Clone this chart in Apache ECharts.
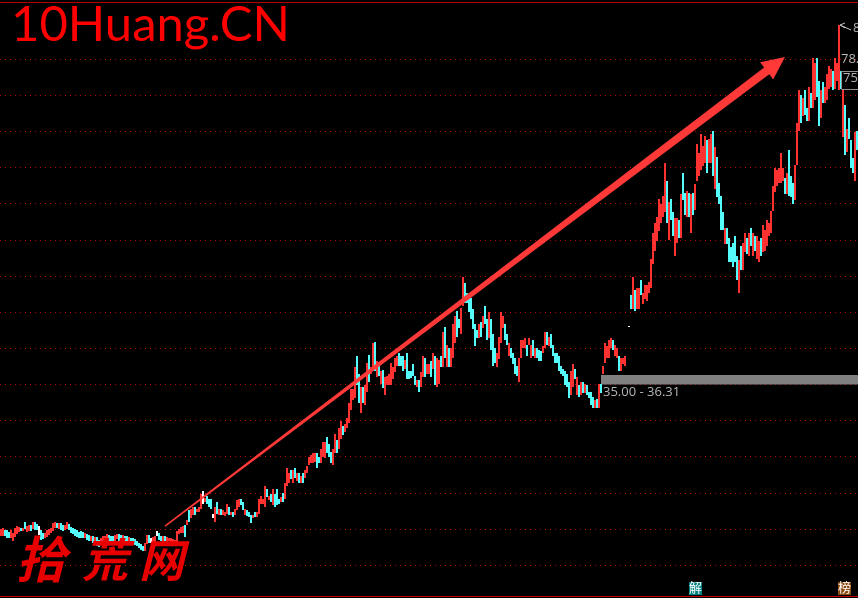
<!DOCTYPE html>
<html>
<head>
<meta charset="utf-8">
<style>html,body{margin:0;padding:0;background:#000;overflow:hidden}#c{width:858px;height:598px}</style>
<script src="https://cdn.jsdelivr.net/npm/echarts@6/dist/echarts.min.js"></script>
</head>
<body>
<div id="c"></div>
<script>
// each row: [open, close, low, high]
const legBase = [
[14.2,14.7,14.0,15.0],[14.3,14.9,14.1,15.2],[14.8,14.1,14.0,14.9],[14.7,14.0,13.8,14.8],[14.4,13.8,13.7,14.6],[13.9,14.6,13.7,14.8],[13.7,14.3,13.4,14.5],[14.0,14.9,13.9,15.1],[14.5,15.2,14.3,15.4],[14.7,15.2,14.6,15.3],
[15.1,14.8,14.7,15.2],[14.8,15.1,14.7,15.2],[15.8,15.1,15.0,16.0],[14.7,15.2,14.6,15.4],[14.8,15.3,14.7,15.5],[15.5,14.8,14.7,15.6],[15.1,15.9,15.0,16.0],[15.8,15.1,14.9,16.0],[15.6,15.0,14.8,15.7],[15.3,14.5,14.2,15.4],
[14.7,13.9,13.5,14.9],[14.3,13.8,13.6,14.5],[13.9,14.3,13.8,14.4],[14.0,14.6,13.9,14.9],[14.3,14.9,14.2,15.0],[14.6,15.0,14.5,15.2],[14.8,15.5,14.7,15.9],[15.2,15.8,15.1,16.0],[15.8,15.2,15.1,15.9],[15.1,15.7,15.0,15.9],
[15.7,15.0,14.9,15.8],[15.4,14.8,14.7,15.6],[14.9,15.4,14.8,15.6],[15.1,15.7,15.0,16.0],[15.6,15.0,14.9,15.7],[15.2,14.6,14.4,15.3],[15.0,14.5,14.3,15.1],[14.8,14.2,14.1,15.0],[14.7,14.1,13.9,14.8],[14.4,13.9,13.7,14.6],
[14.6,14.0,13.8,14.7],[14.5,13.9,13.7,14.6],[13.9,14.3,13.8,14.4],[14.2,13.7,13.5,14.3],[14.0,13.5,13.3,14.2],[13.5,13.9,13.4,14.0],[13.9,13.3,13.1,14.0],[13.1,13.7,13.0,13.9],[13.7,13.0,12.6,13.9],[13.4,12.9,12.5,13.5],
[13.0,13.5,12.9,13.7],[13.1,13.7,13.0,14.0],[13.3,13.9,13.2,14.0],[13.5,14.1,13.4,14.3],[14.1,13.6,13.4,14.2],[14.0,13.4,13.3,14.1],[13.9,13.4,13.2,14.0],[13.5,14.1,13.4,14.2],[13.7,14.2,13.6,14.3],[14.2,13.6,13.4,14.3],
[14.1,13.6,13.5,14.2],[13.5,14.0,13.4,14.2],[14.0,13.5,13.4,14.1],[13.9,13.4,13.3,14.0],[13.4,13.8,13.2,13.9],[13.7,13.2,13.0,13.8],[13.6,13.1,12.9,13.7],[13.5,13.0,12.8,13.6],[13.2,12.8,12.6,13.3],[13.0,12.6,12.4,13.1],
[12.8,12.3,12.1,12.9],[12.6,12.1,11.9,12.7],[12.0,12.8,11.9,13.0],[13.0,14.0,12.9,14.2],[14.0,13.2,13.0,14.2],[13.7,13.2,13.0,13.8],[13.1,13.7,13.0,13.9],[13.3,14.0,13.2,14.1],[14.6,14.1,14.0,14.7],[14.3,13.7,13.5,14.4],
[14.0,13.5,13.3,14.1],[13.3,13.9,13.2,14.0],[14.0,13.4,13.3,14.1],[13.3,13.8,13.2,13.9],[13.4,13.7,13.3,13.8],[13.2,13.6,13.1,13.7],[13.1,13.5,13.0,13.6],[13.0,13.4,12.9,13.5],[13.2,14.5,13.1,14.7],[14.4,14.9,14.3,15.0],
[14.5,15.2,14.4,15.3],[14.6,15.3,14.5,15.4],[15.4,14.2,13.9,15.6]
];
const legFirstRise = [
[15.7,16.1,15.6,16.2],[17.3,16.3,16.0,17.6],[16.7,17.6,16.5,17.8],[17.0,17.8,16.9,18.0],[17.8,17.0,16.9,18.0],[17.4,17.7,17.3,17.8],[17.5,17.9,17.4,18.0],[18.0,19.6,17.8,19.9],[20.0,18.9,18.5,20.3],[18.7,19.2,18.7,19.3],
[19.4,18.8,18.5,19.5],[19.0,18.2,18.0,19.1],[19.0,18.0,17.8,19.2],[17.1,16.6,16.5,17.1],[16.3,17.8,16.0,18.0],[18.4,17.3,17.1,18.7],[17.0,17.6,16.9,17.8],[17.6,17.0,16.9,17.7],[17.0,17.4,17.0,17.6],[16.9,17.3,16.8,17.4],
[17.2,18.1,17.1,18.5],[17.8,17.0,16.9,18.0],[17.0,17.3,17.0,17.4],[17.1,16.7,16.6,17.3],[17.0,17.6,16.9,17.8],[17.7,18.8,17.6,19.0],[18.1,18.9,18.0,19.1],[19.1,18.4,18.3,19.2],[18.5,17.8,17.6,18.7],[17.1,17.7,17.0,17.8],
[17.5,17.0,16.8,17.6],[17.2,16.7,16.6,17.3],[16.8,16.0,15.9,16.9],[16.6,16.9,16.5,17.0],[17.3,16.7,16.6,17.4],[16.7,17.2,16.6,17.3],[17.2,18.9,17.1,19.1],[18.6,19.4,18.5,19.6],[18.6,19.1,18.5,19.2],[18.3,20.0,18.1,20.9],
[20.4,19.5,19.4,20.6],[19.1,19.5,19.0,19.6],[19.6,18.9,18.7,19.8],[18.5,20.2,18.3,20.5],[19.6,18.3,18.0,19.8],[20.3,18.6,18.3,20.5],[19.1,18.5,18.4,19.2],[18.7,19.2,18.7,19.4],[19.9,18.8,18.7,20.0],[19.4,21.0,19.2,21.3],
[21.2,22.8,21.0,23.5],[21.5,22.6,21.3,22.8],[23.0,22.0,21.9,23.1],[21.6,22.9,21.4,23.1],[23.2,22.2,22.0,23.4],[21.9,22.5,21.7,22.7],[22.6,21.6,21.4,22.7],[21.4,22.2,21.3,22.4],[22.5,21.6,21.4,22.7],[22.1,22.9,22.0,23.1],
[22.8,23.5,22.7,23.7],[24.0,24.7,23.8,24.9],[24.2,25.0,24.1,25.2],[24.4,25.3,24.2,25.5],[24.5,25.3,24.3,25.5],[25.3,24.0,23.5,25.5],[25.0,24.2,24.1,25.0],[24.5,25.9,24.2,26.1],[25.1,26.7,24.9,27.1],[25.0,26.6,24.8,27.0],
[27.4,25.8,25.5,27.7],[26.6,25.2,24.9,26.8],[25.4,24.4,24.2,25.6],[24.2,25.8,23.9,26.1],[25.8,27.7,25.5,28.1],[27.0,25.8,25.5,27.3],[26.3,28.6,26.1,29.0],[27.7,29.5,27.5,29.9],[29.0,28.2,28.0,29.2],[28.6,29.3,28.4,29.5],
[29.2,30.2,29.0,30.4],[29.9,32.0,29.6,32.4],[31.7,34.0,31.4,34.4],[33.1,34.1,32.9,34.3],[33.3,36.5,33.1,37.4],[36.5,35.2,34.9,38.9],[36.0,33.0,32.4,36.5],[33.0,34.3,31.0,34.6],[34.4,32.7,32.5,34.6],[32.4,34.6,32.1,34.9],
[34.2,37.5,33.9,37.9],[38.0,35.6,35.3,39.1],[36.6,37.3,36.5,37.4],[37.1,38.5,36.9,40.8],[38.8,37.1,36.9,40.9],[36.2,38.0,36.0,38.3],[37.4,36.4,36.2,37.6],[35.3,36.7,35.1,36.9],[36.8,35.5,34.5,37.0],[34.2,35.8,33.6,36.0]
];
const legFirstRange = [
[35.0,36.0,34.9,36.2],[35.0,36.2,34.9,36.5],[35.2,36.5,34.9,37.9],[36.0,37.2,35.8,37.4],[36.9,38.5,36.7,38.7],[37.8,38.8,37.6,39.0],[39.1,37.8,37.6,39.3],[38.8,37.8,37.6,39.0],[38.8,37.2,36.8,39.0],[37.3,38.2,37.1,38.4],
[38.5,36.2,35.8,39.3],[36.7,36.0,35.8,36.9],[36.7,36.1,35.9,36.9],[37.0,36.3,36.1,37.8],[36.0,35.0,34.9,36.2],[34.7,35.5,34.6,35.6],[35.2,34.3,33.9,35.6],[34.8,36.5,34.6,36.7],[36.2,38.6,36.0,38.9],[38.5,36.4,36.0,38.7],
[36.7,37.6,36.5,37.8],[36.7,37.6,36.5,37.8],[37.8,36.8,36.0,38.2],[37.4,39.0,37.2,39.3],[38.5,35.5,34.9,38.9],[35.0,38.4,34.6,38.7],[35.5,38.0,35.0,38.4],[38.7,37.6,37.4,38.9],[37.6,41.0,37.4,42.3],[42.6,39.2,38.7,43.0],
[37.6,40.1,37.4,40.4],[39.8,37.8,37.4,40.0],[37.6,39.5,37.4,40.1],[39.0,42.0,38.7,43.4],[41.2,44.0,40.8,44.5],[44.8,41.8,41.5,45.1],[44.0,43.0,42.8,44.1],[42.3,45.0,42.0,45.6],[46.2,47.5,45.9,49.8],[48.5,46.5,46.2,49.0],
[47.4,46.4,46.2,47.6],[46.7,45.3,45.0,46.9],[46.5,44.5,44.1,46.9],[45.1,43.0,42.6,45.4],[43.0,41.5,40.3,43.4],[42.3,41.6,41.4,42.5],[41.6,43.1,41.4,43.4],[43.3,41.9,41.6,43.6],[43.0,44.2,42.8,44.4],[45.0,43.7,43.4,45.9],
[43.8,41.5,41.2,44.1],[41.7,44.7,41.4,45.0],[43.8,40.2,39.7,44.1],[41.6,39.0,37.6,42.0],[39.8,38.2,37.9,40.0],[37.6,39.2,37.4,39.4],[38.8,41.0,38.5,41.5],[41.0,44.0,40.8,45.0],[43.0,44.3,42.8,44.5],[43.1,41.4,41.1,43.4],
[41.8,40.6,40.4,42.0],[39.2,40.5,39.0,40.7],[39.8,38.8,38.6,40.0],[39.1,38.0,37.8,39.3],[38.4,36.8,36.5,38.6],[37.4,36.4,36.2,37.6],[36.0,38.4,35.4,38.7],[38.9,40.8,38.6,41.1],[40.2,41.0,40.0,41.2],[40.3,41.2,40.1,41.4],
[40.3,39.1,38.9,40.5],[40.5,41.3,40.4,41.4],[39.0,40.2,38.7,40.5],[41.0,39.2,39.0,41.2],[38.9,39.9,38.7,40.1],[39.8,38.8,38.6,40.0],[39.5,38.5,38.3,39.7],[39.4,38.4,38.2,39.6],[39.5,40.1,39.4,40.3],[40.3,42.1,40.1,42.3],
[42.0,40.6,40.4,42.2],[40.5,41.4,40.3,41.6],[41.8,40.2,40.0,42.0],[40.2,39.2,39.0,40.4],[39.2,38.2,38.0,39.4],[39.1,38.1,37.9,39.3],[38.8,37.2,36.9,39.0],[37.4,36.7,36.5,37.6],[37.0,36.4,36.2,37.2],[36.7,35.2,34.9,36.9],
[36.3,34.9,34.6,36.5],[35.0,33.8,33.1,35.3],[33.8,36.6,33.5,36.9],[35.0,36.0,34.7,37.8],[37.0,36.0,35.8,37.2],[33.8,35.8,33.5,36.0],[34.7,33.4,33.2,34.9],[33.7,35.1,33.5,35.3],[35.1,34.0,33.8,35.3],[34.0,34.8,33.8,35.0],
[34.7,33.7,33.5,34.9],[33.8,33.2,33.1,33.9],[33.7,32.3,32.1,33.9],[33.0,32.0,31.8,33.2],[31.9,32.6,31.7,32.8],[32.8,32.0,31.8,33.0],[31.9,34.9,31.7,35.1],[34.9,34.0,33.8,35.0],[36.6,37.3,36.5,37.5],[38.1,40.4,37.9,40.7],
[38.9,40.0,38.7,40.3],[39.0,40.8,38.7,41.1],[40.2,41.2,40.0,41.4],[41.0,40.0,39.8,41.1],[39.2,40.2,39.0,40.4],[38.9,39.8,38.7,40.0],[38.8,37.0,36.8,39.0],[37.0,38.5,36.8,38.7],[37.9,38.5,37.8,38.7],[37.8,38.8,37.6,39.0]
];
const legGap = [
[null,null,null,null],[43.1,43.1,43.1,43.1]
];
const legSecondRise = [
[47.2,45.7,45.5,47.4],[45.7,48.0,45.5,49.8],[47.8,45.5,45.2,48.0],[45.7,48.0,45.5,48.3],[45.6,47.5,45.4,48.3],[49.3,47.6,47.4,49.5],[46.3,47.4,46.1,47.6],[47.0,48.5,46.8,48.7],[46.7,48.5,46.5,48.7],[47.8,49.0,47.6,49.2],
[48.6,52.0,48.3,52.4],[52.0,55.7,51.7,56.0],[53.8,57.0,53.5,57.4],[55.0,57.8,54.8,58.1],[56.5,60.0,56.2,60.7],[57.6,59.8,57.4,60.0],[58.4,60.7,58.1,61.0],[59.2,62.0,58.9,65.6],[61.0,58.0,57.4,63.1],[56.0,59.8,55.0,60.2],
[60.3,58.0,57.7,60.6],[58.7,56.0,55.6,58.9],[54.5,57.7,52.8,58.0],[54.8,57.7,54.5,58.0],[57.5,55.6,55.3,57.7],[55.6,60.0,55.3,61.3],[61.5,60.8,60.5,64.3],[61.2,58.8,58.4,61.5],[58.4,61.5,58.1,61.8],[61.2,58.4,58.1,61.5],
[58.0,61.1,55.9,61.4],[61.2,58.8,58.4,61.5],[59.5,62.4,59.2,62.7],[63.5,67.5,63.2,68.2],[64.2,66.7,63.9,67.0],[65.0,68.0,64.6,69.7],[65.5,67.7,65.2,68.0],[66.0,69.0,65.7,69.3],[68.4,65.0,64.2,68.8],[65.9,68.7,65.6,69.0],
[66.0,69.3,65.6,69.6],[69.8,65.0,63.8,70.1],[62.4,66.0,62.1,67.9],[66.2,61.5,60.9,66.5],[62.6,60.2,59.9,62.9],[60.6,57.0,56.4,61.0],[58.5,56.7,56.4,58.8],[54.7,56.4,54.4,56.7],[56.4,54.7,54.4,56.7],[54.9,52.2,51.9,55.2],
[53.7,52.2,51.9,54.0],[54.3,51.6,51.2,54.6],[55.0,52.3,51.9,55.5],[52.4,49.9,49.5,52.7],[50.0,51.8,47.6,52.2],[53.9,51.3,50.9,54.2],[51.3,54.3,50.9,54.6],[53.6,55.7,53.3,56.0],[55.0,53.4,53.1,55.2],[53.1,55.7,52.8,56.0],
[56.3,54.5,54.2,56.6]
];
const legFinalRise = [
[53.1,55.7,52.8,56.0],[55.3,53.8,53.5,55.6],[52.7,55.3,52.4,55.6],[52.2,54.5,51.9,54.9],[55.0,53.0,52.8,55.2],[53.6,56.7,53.3,57.0],[53.8,56.0,53.5,56.3],[54.5,57.4,54.2,57.7],[55.8,57.2,55.6,57.4],[56.3,58.8,56.0,59.0],
[59.3,62.2,59.0,62.5],[61.9,64.6,61.6,64.9],[62.8,64.4,62.5,64.6],[63.0,64.7,62.8,64.9],[63.2,65.0,62.9,67.0],[63.4,64.7,63.2,64.9],[63.4,61.7,61.4,63.6],[61.7,64.0,61.4,64.3],[64.5,61.5,61.1,67.4],[63.6,61.2,60.9,63.9],
[62.6,60.3,60.0,62.9],[60.8,64.0,60.5,65.3],[65.6,70.9,65.3,71.2],[71.0,75.2,70.1,75.7],[74.8,71.5,71.1,75.1],[72.5,74.3,72.2,74.6],[75.4,72.6,72.3,75.7],[73.0,71.8,71.5,73.3],[71.8,75.8,71.5,76.1],[75.0,73.5,73.2,75.3],
[73.6,79.8,73.3,80.1],[74.6,79.0,74.3,79.4],[79.8,75.0,74.7,80.1],[76.5,72.5,70.8,77.0],[72.2,75.4,71.9,75.7],[76.5,74.2,73.9,76.8],[74.3,75.8,74.0,76.1],[74.6,77.7,74.3,78.0],[76.2,78.8,75.9,79.1],[76.4,78.4,76.1,78.7],
[78.1,76.0,75.7,78.4],[76.2,79.8,75.9,80.1],[77.3,79.2,77.0,79.5],[76.0,79.0,75.7,84.7],[78.1,76.2,75.9,78.4],[69.5,75.4,69.2,75.7],[73.4,67.0,66.7,73.7],[67.4,70.1,67.1,70.4],[71.6,69.3,69.0,71.9],[68.5,65.3,65.0,68.8],
[66.0,64.6,64.3,66.3],[63.5,69.6,63.2,69.9],[69.7,67.7,67.4,70.0]
];
const whiteCandles = [19, 75, 78, 101, 106, 314];
const rangeBand = [35.00, 36.31];
const rangeBandStart = 300;
const rangeBandText = '35.00 - 36.31';
const arrowLine = [82, 15.4, 392, 80.3];
const priceMin = 5, priceMax = 85, priceStep = 5;

const UP = '#ff3232', DOWN = '#54fcfc', GRID = '#c00000', LABEL = '#b4b4b4';
const LABEL_FONT = '"Open Sans", sans-serif';
const rows = [].concat(legBase, legFirstRise, legFirstRange, legGap, legSecondRise, legFinalRise);
const categories = rows.map((_, i) => String(i));
const candleRows = rows.map((r, i) => [i].concat(r));

const chart = echarts.init(document.getElementById('c'), null, { renderer: 'canvas', width: 858, height: 598, devicePixelRatio: 1 });

function renderCandle(params, api) {
  const i = api.value(0), o = api.value(1), c = api.value(2), l = api.value(3), h = api.value(4);
  if (isNaN(o)) return null;
  const left = api.coord([i, o])[0] - 1;
  const yO = Math.round(api.coord([i, o])[1]), yC = Math.round(api.coord([i, c])[1]);
  const yL = Math.round(api.coord([i, l])[1]), yH = Math.round(api.coord([i, h])[1]);
  const colour = whiteCandles.includes(i) ? '#ffffff' : (c >= o ? UP : DOWN);
  return { type: 'group', children: [
    { type: 'rect', shape: { x: left, y: yH, width: 2, height: Math.max(yL - yH, 1) }, style: { fill: colour } },
    { type: 'rect', shape: { x: left, y: Math.min(yO, yC), width: 2, height: Math.max(Math.abs(yO - yC), 1) }, style: { fill: colour } }
  ] };
}

function renderArrow(params, api) {
  const a = api.coord([api.value(0), api.value(1)]);
  const b = api.coord([api.value(2), api.value(3)]);
  const dx = b[0] - a[0], dy = b[1] - a[1], len = Math.hypot(dx, dy);
  const ux = dx / len, uy = dy / len, nx = -uy, ny = ux;
  const headLen = 23, headHalf = 10.8, tailHalf = 0.7, neckHalf = 4.3;
  const neck = [b[0] - ux * headLen, b[1] - uy * headLen];
  const off = (p, h) => [p[0] + nx * h, p[1] + ny * h];
  return {
    type: 'polygon',
    shape: { points: [off(a, tailHalf), off(neck, neckHalf), off(neck, headHalf), b, off(neck, -headHalf), off(neck, -neckHalf), off(a, -tailHalf)] },
    style: { fill: '#ff3838' }
  };
}

chart.setOption({
  animation: false,
  backgroundColor: '#000',
  grid: { left: 0, top: 23, width: 858, height: 578.3, containLabel: false, outerBoundsMode: 'none' },
  tooltip: { show: false },
  xAxis: { type: 'category', data: categories, boundaryGap: true, show: true,
    axisLine: { show: false }, axisTick: { show: false }, axisLabel: { show: false }, splitLine: { show: false } },
  yAxis: { type: 'value', min: priceMin, max: priceMax, interval: priceStep, scale: false,
    axisLine: { show: false }, axisTick: { show: false }, axisLabel: { show: false },
    splitLine: { show: true, showMaxLine: false, lineStyle: { color: GRID, width: 1, type: [1, 4] } } },
  series: [
    { type: 'custom', name: 'K', renderItem: renderCandle, data: candleRows, clip: false, silent: true, z: 3,
      dimensions: ['day', 'open', 'close', 'low', 'high'], encode: { x: 0, y: [1, 2, 3, 4] },
      markArea: { silent: true, itemStyle: { color: '#808080', opacity: 1 },
        label: { show: true, position: [2, 11], color: LABEL, fontFamily: LABEL_FONT, fontSize: 13 },
        data: [[{ name: rangeBandText, xAxis: rangeBandStart, yAxis: rangeBand[0] }, { x: 858, yAxis: rangeBand[1] }]] } },
    { type: 'custom', renderItem: renderArrow, data: [arrowLine], clip: false, silent: true, z: 5,
      encode: { x: [0, 2], y: [1, 3] } }
  ],
  graphic: [
    { type: 'rect', z: 20, shape: { x: 0, y: 2, width: 858, height: 1 }, style: { fill: '#b00000' } },
    { type: 'rect', z: 20, shape: { x: 0, y: 596, width: 858, height: 1 }, style: { fill: '#c00000' } },
    { type: 'text', z: 30, x: 11, y: 1, style: { text: '10Huang.CN', fill: '#ff0000', font: '49px Lato, sans-serif' } },
    { type: 'text', z: 30, x: 16, y: 534, style: { text: '拾', fill: '#e80000', font: 'italic bold 50px "Noto Sans CJK SC"' } },
    { type: 'text', z: 30, x: 82, y: 537, style: { text: '荒', fill: '#e80000', font: 'italic bold 46px "Noto Sans CJK SC"' } },
    { type: 'text', z: 30, x: 139, y: 537, style: { text: '网', fill: '#e80000', font: 'italic bold 45px "Noto Sans CJK SC"' } },
    { type: 'polyline', z: 30, shape: { points: [[845, 23], [840, 25], [851, 30]] }, style: { stroke: '#c0c0c0', fill: null, lineWidth: 1 } },
    { type: 'polyline', z: 30, shape: { points: [[840, 25], [845, 28]] }, style: { stroke: '#c0c0c0', fill: null, lineWidth: 1 } },
    { type: 'text', z: 30, x: 853, y: 22, style: { text: '8', fill: LABEL, font: '13px ' + LABEL_FONT } },
    { type: 'text', z: 30, x: 841, y: 53, style: { text: '78.', fill: LABEL, font: '13px ' + LABEL_FONT } },
    { type: 'rect', z: 30, shape: { x: 841.5, y: 71.5, width: 30, height: 18 }, style: { fill: '#000', stroke: '#909090', lineWidth: 1 } },
    { type: 'text', z: 31, x: 843, y: 72, style: { text: '75.', fill: LABEL, font: '13px ' + LABEL_FONT } },
    { type: 'rect', z: 30, shape: { x: 689, y: 582, width: 13, height: 13 }, style: { fill: '#008080' } },
    { type: 'text', z: 31, x: 689, y: 581, style: { text: '解', fill: '#fff', font: '13px "Noto Sans CJK SC"' } },
    { type: 'rect', z: 30, shape: { x: 838, y: 582, width: 13, height: 13 }, style: { fill: '#8b4a10' } },
    { type: 'text', z: 31, x: 838, y: 581, style: { text: '榜', fill: '#fff', font: '13px "Noto Sans CJK SC"' } }
  ]
});
</script>
</body>
</html>
